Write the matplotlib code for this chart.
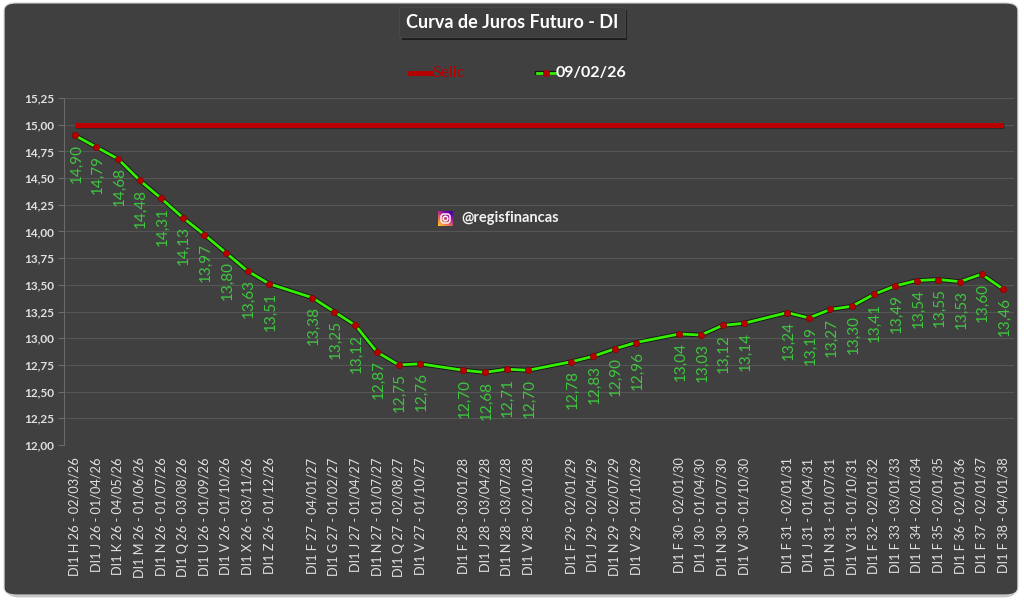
import numpy as np
import matplotlib
matplotlib.use("Agg")
import matplotlib.pyplot as plt
import matplotlib.patheffects as pe
from matplotlib.patches import FancyBboxPatch, Circle

plt.rcParams["font.family"] = ["Lato", "DejaVu Sans"]

# contracts on the x axis ("" = empty slot between years)
contracts = [
    "DI1 H 26 - 02/03/26", "DI1 J 26 - 01/04/26", "DI1 K 26 - 04/05/26", "DI1 M 26 - 01/06/26",
    "DI1 N 26 - 01/07/26", "DI1 Q 26 - 03/08/26", "DI1 U 26 - 01/09/26", "DI1 V 26 - 01/10/26",
    "DI1 X 26 - 03/11/26", "DI1 Z 26 - 01/12/26", "",
    "DI1 F 27 - 04/01/27", "DI1 G 27 - 01/02/27", "DI1 J 27 - 01/04/27", "DI1 N 27 - 01/07/27",
    "DI1 Q 27 - 02/08/27", "DI1 V 27 - 01/10/27", "",
    "DI1 F 28 - 03/01/28", "DI1 J 28 - 03/04/28", "DI1 N 28 - 03/07/28", "DI1 V 28 - 02/10/28", "",
    "DI1 F 29 - 02/01/29", "DI1 J 29 - 02/04/29", "DI1 N 29 - 02/07/29", "DI1 V 29 - 01/10/29", "",
    "DI1 F 30 - 02/01/30", "DI1 J 30 - 01/04/30", "DI1 N 30 - 01/07/30", "DI1 V 30 - 01/10/30", "",
    "DI1 F 31 - 02/01/31", "DI1 J 31 - 01/04/31", "DI1 N 31 - 01/07/31", "DI1 V 31 - 01/10/31",
    "DI1 F 32 - 02/01/32", "DI1 F 33 - 03/01/33", "DI1 F 34 - 02/01/34", "DI1 F 35 - 02/01/35",
    "DI1 F 36 - 02/01/36", "DI1 F 37 - 02/01/37", "DI1 F 38 - 04/01/38",
]
nan = np.nan
rates = [
    14.90, 14.79, 14.68, 14.48, 14.31, 14.13, 13.97, 13.80, 13.63, 13.51, nan,
    13.38, 13.25, 13.12, 12.87, 12.75, 12.76, nan,
    12.70, 12.68, 12.71, 12.70, nan,
    12.78, 12.83, 12.90, 12.96, nan,
    13.04, 13.03, 13.12, 13.14, nan,
    13.24, 13.19, 13.27, 13.30,
    13.41, 13.49, 13.54, 13.55, 13.53, 13.60, 13.46,
]
selic = 15.00
series_name = "09/02/26"

BG = "#404040"
GREEN = "#33f000"
LABEL_GREEN = "#3fc63f"
RED = "#b80000"
TXT = "#e0e0e0"

fig = plt.figure(figsize=(10.24, 6.01), dpi=100, facecolor="white")

# rounded dark panel with a soft shadow
shadow = FancyBboxPatch((0.007, 0.006), 0.985, 0.985, boxstyle="round,pad=0,rounding_size=0.012",
                        transform=fig.transFigure, facecolor="#c4c4c4", edgecolor="none", zorder=-3)
panel = FancyBboxPatch((0.004, 0.01), 0.99, 0.985, boxstyle="round,pad=0,rounding_size=0.012",
                       transform=fig.transFigure, facecolor=BG, edgecolor="#d0d0d0", lw=0.8, zorder=-2)
fig.patches.extend([shadow, panel])

ax = fig.add_axes([64 / 1024, 1 - 445 / 601, (1014 - 64) / 1024, (445 - 98) / 601])
ax.set_facecolor("none")

x = np.arange(len(contracts))
y = np.array(rates, dtype=float)
ok = ~np.isnan(y)

ax.plot([x[0], x[-1]], [selic, selic], color=RED, lw=3.6, solid_capstyle="butt", zorder=3,
        path_effects=[pe.SimpleLineShadow(offset=(0.8, -0.8), shadow_color="black", alpha=0.35), pe.Normal()])
ax.plot(x[ok], y[ok], color=GREEN, lw=2, zorder=4,
        path_effects=[pe.Stroke(linewidth=3.3, foreground="#151515"), pe.Normal()])
ax.plot(x[ok], y[ok], ls="none", marker="o", ms=4.5, mfc=RED, mec="#8b0000", mew=0.5, zorder=5)

for xi, yi in zip(x[ok], y[ok]):
    ax.annotate(f"{yi:.2f}".replace(".", ","), (xi, yi), xytext=(1, -6), textcoords="offset points",
                rotation=90, ha="center", va="top", color=LABEL_GREEN, fontsize=11, zorder=6)

ax.set_xlim(-0.5, len(contracts) - 0.5)
ax.set_ylim(12.0, 15.25)
yt = np.arange(12.0, 15.26, 0.25)
ax.set_yticks(yt)
ax.set_yticklabels([f"{v:.2f}".replace(".", ",") for v in yt], color=TXT, fontsize=8.5, fontweight="bold")
ax.set_xticks(x)
ax.set_xticklabels(contracts, rotation=90, color=TXT, fontsize=9.2)
ax.tick_params(axis="x", length=0, pad=9)
ax.tick_params(axis="y", length=4, color="#6a6a6a", pad=3)
ax.grid(axis="y", color="#555555", lw=0.8)
ax.set_axisbelow(True)
for s in ["top", "right", "bottom"]:
    ax.spines[s].set_visible(False)
ax.spines["left"].set_color("#6a6a6a")

# title box
fig.text(0.5, 1 - 22 / 601, "Curva de Juros Futuro - DI", ha="center", va="center", color="white",
         fontsize=13, fontweight="bold",
         bbox=dict(boxstyle="square,pad=0.35", facecolor="#3e3e3e", edgecolor="#4a4a4a", lw=0.6,
                   path_effects=[pe.SimplePatchShadow(offset=(2, -2), shadow_rgbFace="black", alpha=0.5), pe.Normal()]))

# legend
ly = 1 - 73 / 601
fig.add_artist(plt.Line2D([410 / 1024, 431 / 1024], [ly, ly], color=RED, lw=3.5, transform=fig.transFigure))
fig.text(432 / 1024, ly, "Selic", color=RED, fontsize=11.5, va="center")
fig.add_artist(plt.Line2D([537 / 1024, 555 / 1024], [ly, ly], color=GREEN, lw=2, transform=fig.transFigure,
                          path_effects=[pe.Stroke(linewidth=3, foreground="#151515"), pe.Normal()]))
fig.add_artist(plt.Line2D([546 / 1024], [ly], marker="o", ms=4, mfc=RED, mec=RED, ls="none",
                          transform=fig.transFigure))
fig.text(556 / 1024, ly, series_name, color="white", fontsize=11.5, fontweight="bold", va="center")

# watermark with instagram-like icon
iax = fig.add_axes([438 / 1024, 1 - 226 / 601, 15 / 1024, 15 / 601])
grad = np.linspace(0, 1, 64)
gx, gy = np.meshgrid(grad, grad)
iax.imshow(gx * 0.4 + gy * 0.6, cmap="plasma_r", extent=(0, 1, 0, 1), origin="lower", vmin=-0.1, vmax=1.05)
iax.add_patch(FancyBboxPatch((0.2, 0.2), 0.6, 0.6, boxstyle="round,pad=0,rounding_size=0.18",
                             fill=False, edgecolor="white", lw=1))
iax.add_patch(Circle((0.5, 0.5), 0.15, fill=False, edgecolor="white", lw=1))
iax.axis("off")
fig.text(461 / 1024, 1 - 218 / 601, "@regisfinancas", color="#f2f2f2", fontsize=10.5, fontweight="bold",
         va="center")

fig.savefig("out.png", dpi=100, facecolor="white")
